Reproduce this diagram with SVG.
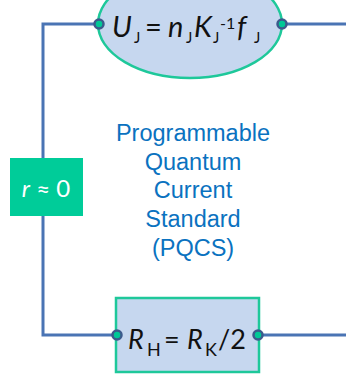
<svg xmlns="http://www.w3.org/2000/svg" width="346" height="375" viewBox="0 0 346 375">
<style>
.wire{fill:none;stroke:#4a74b4;stroke-width:3}
.dot{fill:#00c896;stroke:#3c5a8c;stroke-width:2.5}
.eq{font-family:Lato,"Open Sans","Liberation Sans",sans-serif;fill:#111}
.it{font-style:italic}
.lbl{font-family:"Liberation Sans",Arial,sans-serif;font-size:23.5px;fill:#0a72c0;text-anchor:middle}
</style>
<rect width="346" height="375" fill="#fff"/>
<g id="connectors">
<polyline class="wire" points="99,24 43,24 43,335 117,335"/>
<line class="wire" x1="282" y1="24" x2="346" y2="24"/>
<line class="wire" x1="258" y1="335" x2="346" y2="335"/>
</g>
<g id="josephson">
<ellipse cx="190" cy="24" rx="92" ry="54" fill="#c6d7ef" stroke="#1ec89a" stroke-width="2.5"/>
<text class="eq" font-size="29"><tspan class="it" x="112" y="37">U</tspan><tspan x="134" y="43" font-size="15">J</tspan><tspan x="145" y="37">=</tspan><tspan class="it" x="168" y="37">n</tspan><tspan x="186" y="43" font-size="15">J</tspan><tspan class="it" x="194" y="37">K</tspan><tspan x="213" y="43" font-size="15">J</tspan><tspan x="220" y="29" font-size="16">-1</tspan><tspan class="it" x="237" y="37">f</tspan><tspan x="254" y="43" font-size="15">J</tspan></text>
<circle class="dot" cx="99" cy="24" r="4.5"/>
<circle class="dot" cx="282" cy="24" r="4.5"/>
</g>
<g id="resistor">
<rect x="10" y="158" width="73" height="58" fill="#00cc99"/>
<text x="46" y="197" font-family="Lato,'Open Sans',sans-serif" font-size="24" fill="#fff" text-anchor="middle"><tspan font-style="italic">r</tspan> ≈ 0</text>
</g>
<g id="label">
<text class="lbl"><tspan x="193" y="141">Programmable</tspan><tspan x="193" y="170">Quantum</tspan><tspan x="193" y="198">Current</tspan><tspan x="193" y="227">Standard</tspan><tspan x="193" y="256">(PQCS)</tspan></text>
</g>
<g id="hall">
<rect x="116" y="298" width="143" height="74" fill="#c6d7ef" stroke="#1ec89a" stroke-width="2.5"/>
<text class="eq" font-size="27"><tspan class="it" x="128" y="349">R</tspan><tspan x="147" y="356" font-size="18">H</tspan><tspan x="164" y="349">=</tspan><tspan class="it" x="187" y="349">R</tspan><tspan x="205" y="356" font-size="18">K</tspan><tspan x="218" y="349">/2</tspan></text>
<circle class="dot" cx="117" cy="335" r="4.5"/>
<circle class="dot" cx="258" cy="335" r="4.5"/>
</g>
</svg>
